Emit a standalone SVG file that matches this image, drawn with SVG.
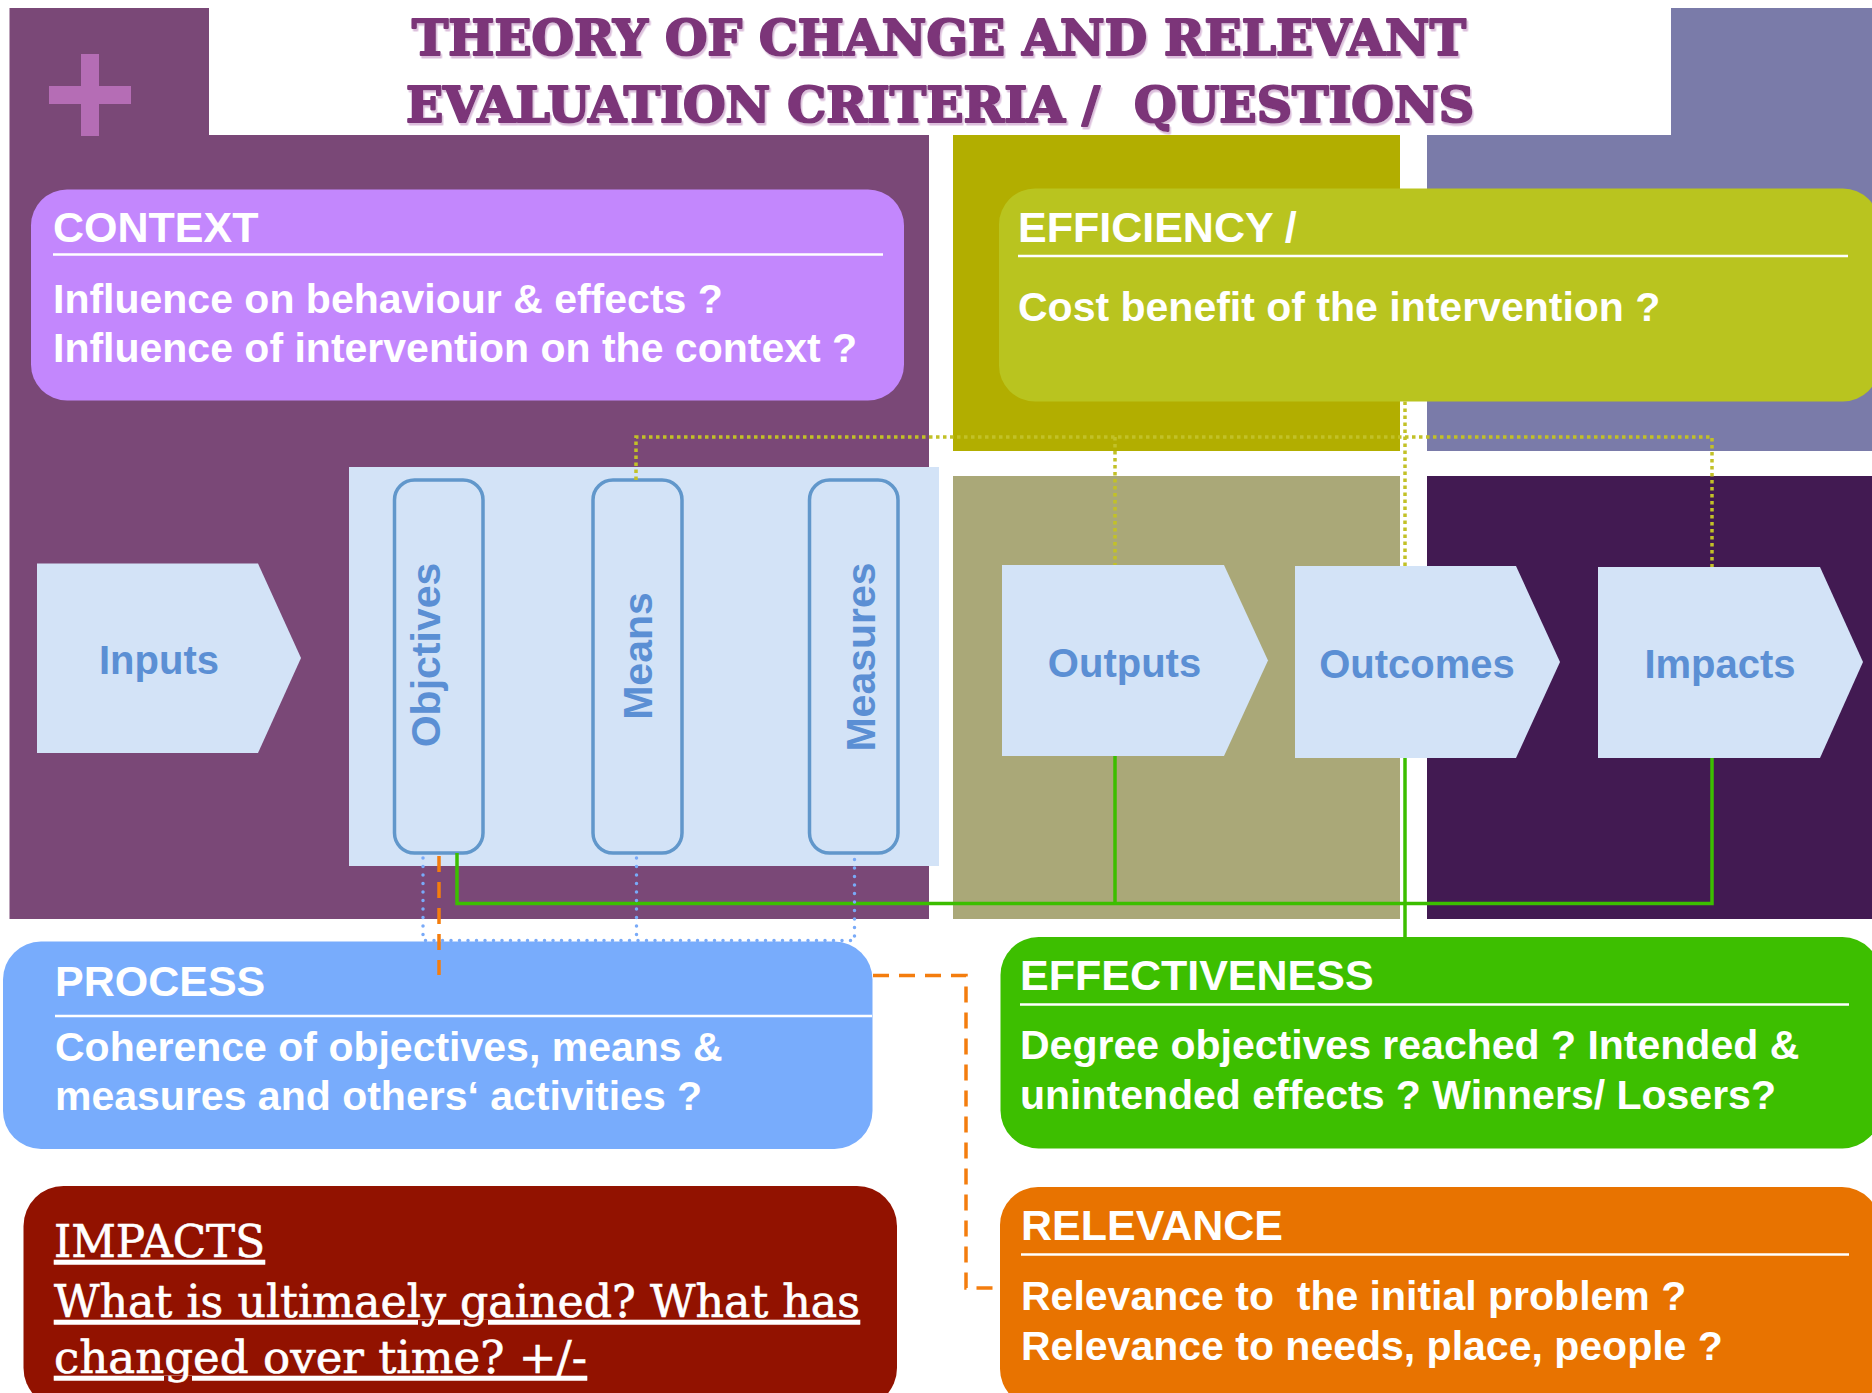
<svg xmlns="http://www.w3.org/2000/svg" width="1872" height="1393" viewBox="0 0 1872 1393">
<defs>
<style>
.hdr{font-family:"Liberation Sans",Arial,sans-serif;font-weight:bold;font-size:43px;fill:#fff}
.body{font-family:"Liberation Sans",Arial,sans-serif;font-weight:bold;font-size:41px;fill:#fff}
.lbl{font-family:"Liberation Sans",Arial,sans-serif;font-weight:bold;font-size:40px;fill:#5b8fd4}
.vlbl{font-family:"Liberation Sans",Arial,sans-serif;font-weight:bold;font-size:41px;fill:#5b8fd4}
.rule{stroke:#fff;stroke-width:2.5}
.chev{fill:#d3e3f7}
.pill{fill:none;stroke:#6197cb;stroke-width:3.5}
.ttl{font-family:"DejaVu Serif","Liberation Serif",serif;font-weight:bold;font-size:49px;fill:#7b3579;stroke:#7b3579;stroke-width:2.2;stroke-linejoin:round}
.imp{font-family:"DejaVu Serif","Liberation Serif",serif;font-size:44px;fill:#fff;stroke:#fff;stroke-width:0.6;text-decoration:underline;text-underline-offset:7px;text-decoration-thickness:3px}
.green{stroke:#3cbe00;stroke-width:3.5;fill:none}
.ydot{stroke:#c2c127;stroke-width:3.5;stroke-dasharray:3.5 3.5;fill:none}
.bdot{stroke:#79aaf8;stroke-width:3.5;stroke-dasharray:0 8.5;stroke-linecap:round;fill:none}
.odash{stroke:#f47d0e;stroke-width:3.5;stroke-dasharray:16 10;fill:none}
</style>
<filter id="shadow" x="-5%" y="-20%" width="110%" height="150%">
<feDropShadow dx="1.5" dy="2.5" stdDeviation="0" flood-color="#dcbfdc"/>
</filter>
</defs>
<rect width="1872" height="1393" fill="#fff"/>
<g id="background">
<polygon points="9.5,8 209,8 209,135 929,135 929,919 9.5,919" fill="#7a4877"/>
<polygon points="1671,8 1872,8 1872,451 1427,451 1427,135 1671,135" fill="#7a7ba9"/>
<rect x="953" y="135" width="447" height="316" fill="#b2ae00"/>
<rect x="953" y="476" width="447" height="443" fill="#aaa878"/>
<rect x="1427" y="476" width="445" height="443" fill="#421a52"/>
<rect x="81" y="54" width="18" height="82" fill="#b56db5"/>
<rect x="49" y="86" width="82" height="18" fill="#b56db5"/>
<rect x="349" y="467" width="590" height="399" fill="#d3e3f7"/>
</g>
<g id="title" filter="url(#shadow)">
<text class="ttl" x="939" y="55" text-anchor="middle" textLength="1054" lengthAdjust="spacingAndGlyphs">THEORY OF CHANGE AND RELEVANT</text>
<text class="ttl" x="940" y="122" text-anchor="middle" textLength="1068" lengthAdjust="spacingAndGlyphs" style="white-space:pre">EVALUATION CRITERIA /  QUESTIONS</text>
</g>
<g id="context">
<rect x="31" y="189.5" width="873" height="211" rx="36" fill="#c387fd"/>
<text class="hdr" x="53" y="242">CONTEXT</text>
<line class="rule" x1="53" y1="254.5" x2="883" y2="254.5"/>
<text class="body" x="53" y="313">Influence on behaviour &amp; effects ?</text>
<text class="body" x="53" y="362">Influence of intervention on the context ?</text>
</g>
<g id="efficiency">
<rect x="999" y="188.5" width="880" height="213" rx="36" fill="#b9c41f"/>
<text class="hdr" x="1018" y="242">EFFICIENCY /</text>
<line class="rule" x1="1018" y1="256" x2="1848" y2="256"/>
<text class="body" x="1018" y="321">Cost benefit of the intervention ?</text>
</g>
<g id="inputs">
<polygon class="chev" points="37,563.5 258,563.5 301,658 258,753 37,753"/>
<text class="lbl" x="159" y="674" text-anchor="middle">Inputs</text>
</g>
<g id="objectives">
<rect class="pill" x="394.5" y="480" width="88.5" height="373" rx="20"/>
<text class="vlbl" transform="translate(440,655) rotate(-90)" text-anchor="middle">Objctives</text>
</g>
<g id="means">
<rect class="pill" x="593" y="480" width="89" height="373" rx="20"/>
<text class="vlbl" transform="translate(652,656) rotate(-90)" text-anchor="middle">Means</text>
</g>
<g id="measures">
<rect class="pill" x="809.5" y="480" width="88.5" height="373" rx="20"/>
<text class="vlbl" transform="translate(875,657) rotate(-90)" text-anchor="middle">Measures</text>
</g>
<g id="outputs">
<polygon class="chev" points="1002,565 1224,565 1268,660.5 1224,756 1002,756"/>
<text class="lbl" x="1124.5" y="677" text-anchor="middle">Outputs</text>
</g>
<g id="outcomes">
<polygon class="chev" points="1295,566 1516,566 1560,662 1516,758 1295,758"/>
<text class="lbl" x="1417" y="678" text-anchor="middle">Outcomes</text>
</g>
<g id="impacts-step">
<polygon class="chev" points="1598,567 1820,567 1863,662 1820,758 1598,758"/>
<text class="lbl" x="1720" y="678" text-anchor="middle">Impacts</text>
</g>
<g id="process">
<rect x="3" y="941.5" width="869.5" height="207.5" rx="38" fill="#78acfc"/>
<text class="hdr" x="55" y="996">PROCESS</text>
<line class="rule" x1="55" y1="1016" x2="872" y2="1016"/>
<text class="body" x="55" y="1061">Coherence of objectives, means &amp;</text>
<text class="body" x="55" y="1110">measures and others‘ activities ?</text>
</g>
<g id="effectiveness">
<rect x="1000.5" y="937" width="880" height="211.5" rx="38" fill="#3dbf00"/>
<text class="hdr" x="1020" y="990">EFFECTIVENESS</text>
<line class="rule" x1="1020" y1="1004.5" x2="1849" y2="1004.5"/>
<text class="body" x="1020" y="1058.5">Degree objectives reached ? Intended &amp;</text>
<text class="body" x="1020" y="1109">unintended effects ? Winners/ Losers?</text>
</g>
<g id="relevance">
<rect x="1000" y="1187" width="880" height="220" rx="38" fill="#e87300"/>
<text class="hdr" x="1021" y="1239.5">RELEVANCE</text>
<line class="rule" x1="1021" y1="1254.5" x2="1849" y2="1254.5"/>
<text class="body" x="1021" y="1310" style="white-space:pre">Relevance to  the initial problem ?</text>
<text class="body" x="1021" y="1359.5">Relevance to needs, place, people ?</text>
</g>
<g id="impacts">
<rect x="23.5" y="1186" width="873.5" height="222" rx="40" fill="#921200"/>
<text class="imp" x="54" y="1257" textLength="211" lengthAdjust="spacingAndGlyphs">IMPACTS</text>
<text class="imp" x="54" y="1317" textLength="806" lengthAdjust="spacingAndGlyphs">What is ultimaely gained? What has</text>
<text class="imp" x="54" y="1373" textLength="533" lengthAdjust="spacingAndGlyphs">changed over time? +/-</text>
</g>
<g id="connectors">
<path class="ydot" d="M636,480 V437 H1712 V567"/>
<path class="ydot" d="M1115,437 V565"/>
<path class="ydot" d="M1405,401.5 V566"/>
<path class="green" d="M457,853 V903.5 H1712 V758"/>
<path class="green" d="M1115,756 V903.5"/>
<path class="green" d="M1405,758 V937"/>
<path class="bdot" d="M423,858 V940.5 H854.5 V858"/>
<path class="bdot" d="M636.5,858 V940.5"/>
<path class="odash" d="M439,856 V975"/>
<path class="odash" d="M873,975.5 H966 V1288 H1000"/>
</g>
</svg>
